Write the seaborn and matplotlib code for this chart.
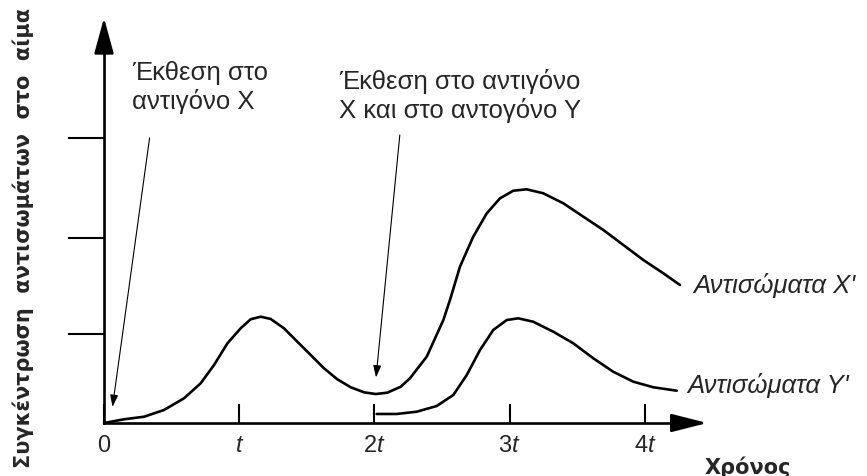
import matplotlib
matplotlib.use("Agg")
import matplotlib.pyplot as plt
import seaborn as sns
import pandas as pd

# (x in units of t, y in y-tick units)
x_time = [0.000, 0.148, 0.296, 0.444, 0.592, 0.715, 0.814, 0.913, 1.011, 1.085,
          1.159, 1.233, 1.331, 1.430, 1.529, 1.627, 1.726, 1.825, 1.923, 2.010,
          2.095, 2.195, 2.263, 2.387, 2.510, 2.559, 2.633, 2.731, 2.831, 2.929,
          3.027, 3.126, 3.249, 3.397, 3.545, 3.693, 3.841, 3.989, 4.137, 4.260]
antibody_x = [0.000, 0.039, 0.066, 0.137, 0.260, 0.418, 0.611, 0.839, 0.997, 1.092,
              1.119, 1.095, 0.997, 0.856, 0.716, 0.576, 0.460, 0.376, 0.323, 0.305,
              0.319, 0.382, 0.471, 0.698, 1.084, 1.295, 1.646, 1.961, 2.207, 2.365,
              2.445, 2.460, 2.418, 2.313, 2.172, 2.032, 1.874, 1.716, 1.576, 1.453]

y_time = [2.017, 2.165, 2.313, 2.461, 2.584, 2.683, 2.781, 2.879, 2.979, 3.064,
          3.175, 3.323, 3.471, 3.619, 3.766, 3.915, 4.063, 4.236]
antibody_y = [0.095, 0.095, 0.119, 0.179, 0.295, 0.505, 0.768, 0.979, 1.084, 1.102,
              1.066, 0.961, 0.839, 0.681, 0.540, 0.435, 0.376, 0.340]

xtick_pos = [0, 1, 2, 3, 4]
xtick_labels = ["0", r"$\mathit{t}$", r"2$\mathit{t}$", r"3$\mathit{t}$", r"4$\mathit{t}$"]
ytick_pos = [0.94, 1.95, 3.0]

label_x = "Αντισώματα Χ'"
label_y = "Αντισώματα Υ'"
note_1 = "Έκθεση στο\nαντιγόνο Χ"
note_2 = "Έκθεση στο αντιγόνο\nΧ και στο αντογόνο Υ"
xlabel = "Χρόνος"
ylabel = "Συγκέντρωση  αντισωμάτων  στο  αίμα"

df_x = pd.DataFrame({"time": x_time, "conc": antibody_x})
df_y = pd.DataFrame({"time": y_time, "conc": antibody_y})

sns.set_theme(style="white")
plt.rcParams["font.family"] = ["Liberation Sans", "DejaVu Sans"]
plt.rcParams["mathtext.fontset"] = "custom"
plt.rcParams["mathtext.it"] = "Liberation Sans:italic"
plt.rcParams["mathtext.rm"] = "Liberation Sans"

fig = plt.figure(figsize=(8.67, 4.76), dpi=100)
ax = fig.add_axes([0, 0, 1, 1])

for df in (df_x, df_y):
    sns.lineplot(data=df, x="time", y="conc", color="black", lw=1.9, ax=ax,
                 sort=False)
for line in ax.lines:
    line.set_solid_joinstyle("round")

# pixel mapping: x=0 at 104px, 135.2px per t ; y=0 at 423px, 95px per unit
ax.set_xlim(-104 / 135.2, (867 - 104) / 135.2)
ax.set_ylim(-(476 - 423) / 95, 423 / 95)

for side in ["top", "right"]:
    ax.spines[side].set_visible(False)
ax.spines["left"].set_position(("data", 0))
ax.spines["bottom"].set_position(("data", 0))
ax.spines["left"].set_bounds(0, 4.0)
ax.spines["bottom"].set_bounds(0, 4.3)
for side in ["left", "bottom"]:
    ax.spines[side].set_linewidth(1.9)
    ax.spines[side].set_color("black")

# axis arrowheads
ax.annotate("", xy=(0, (423 - 15) / 95), xytext=(0, 3.9),
            arrowprops=dict(arrowstyle="-|>,head_length=1.1,head_width=0.3",
                            color="black", lw=1.9, mutation_scale=20))
ax.annotate("", xy=((710 - 104) / 135.2, 0), xytext=(4.2, 0),
            arrowprops=dict(arrowstyle="-|>,head_length=1.1,head_width=0.28",
                            color="black", lw=1.9, mutation_scale=20))

ax.set_xticks(xtick_pos)
ax.set_xticklabels(xtick_labels, fontsize=17)
ax.set_yticks(ytick_pos)
ax.set_yticklabels([])
ax.tick_params(axis="x", direction="in", length=14, width=1.5, color="black",
               pad=9, bottom=True)
ax.tick_params(axis="y", direction="out", length=26, width=1.5, color="black",
               left=True)
ax.set_xlabel("")
ax.set_ylabel("")

# exposure notes with arrows
ax.text((132 - 104) / 135.2, (423 - 61) / 95, note_1, fontsize=18.5, va="top",
        ha="left", linespacing=1.2)
ax.annotate("", xy=(0.06, 0.14), xytext=(0.34, 3.03),
            arrowprops=dict(arrowstyle="-|>,head_length=0.6,head_width=0.2",
                            color="black", lw=0.8, mutation_scale=12))
ax.text((460 - 104) / 135.2, (423 - 69) / 95, note_2, fontsize=18.5, va="top",
        ha="center", linespacing=1.2)
ax.annotate("", xy=(2.01, 0.45), xytext=(2.19, 3.06),
            arrowprops=dict(arrowstyle="-|>,head_length=0.6,head_width=0.2",
                            color="black", lw=0.8, mutation_scale=12))

# curve labels
ax.text((693 - 104) / 135.2, (423 - 285) / 95, label_x, fontsize=18.5,
        style="italic", va="center", ha="left")
ax.text((687 - 104) / 135.2, (423 - 385) / 95, label_y, fontsize=18.5,
        style="italic", va="center", ha="left")

ax.text((705 - 104) / 135.2, (423 - 456) / 95, xlabel, fontsize=15,
        fontweight="bold", family="DejaVu Sans", va="top", ha="left")
fig.text(23 / 867, 1 - 238 / 476, ylabel, fontsize=15, fontweight="bold",
         family="DejaVu Sans", rotation=90, va="center", ha="center")

fig.savefig("out.png", dpi=100)
